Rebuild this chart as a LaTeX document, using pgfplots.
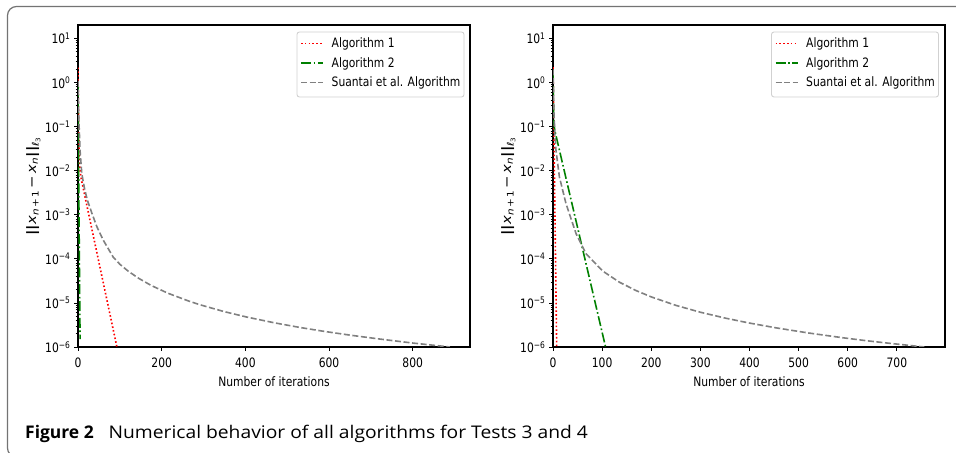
\documentclass[border=0pt]{standalone}
\usepackage{pgfplots}
\pgfplotsset{compat=1.18}
\usepackage{fontspec}
\setmainfont{DejaVu Sans}[FakeStretch=0.83]
\newfontfamily\ylfont{DejaVu Sans}[FakeStretch=1.15]
\newfontfamily\capfont{Open Sans}
\newfontfamily\capfontw{Open Sans}[FakeStretch=1.105]
\definecolor{mplgreen}{RGB}{0,128,0}
\definecolor{mplgray}{RGB}{128,128,128}
\definecolor{mplred}{RGB}{255,0,0}
\newcommand{\logexp}[1]{\pgfmathtruncatemacro\myexp{round(#1)}\ifnum\myexp<0 −\the\numexpr-\myexp\relax\else\myexp\fi}
\newcommand{\ylab}{{\ylfont\fontsize{13}{14}\selectfont\textbf{||}\textit{x}\textsubscript{\textit{n}\,+\,1}\,−\,\textit{x}\textsubscript{\textit{n}}\textbf{||}\textsubscript{\textit{ℓ}\textsubscript{3}}}}

\pgfplotstableread{
x y
0 2.2
1 0.32
2 0.063
3 0.025
5 0.010
8 0.0063
12 0.0042
17 0.0025
93 1e-6
}\leftA
\pgfplotstableread{
x y
0 1.0
1 0.05
2 0.003
3 2e-4
4 1.5e-5
5 1.5e-6
}\leftB
\pgfplotstableread{
x y
0 1.1
2 0.15
5 0.028
9 0.0087
15 0.0042
22 0.0022
33 0.0011
45 5.4e-4
60 2.7e-4
84 1.1e-4
100 7.55e-5
120 5.26e-5
145 3.62e-5
175 2.49e-5
215 1.66e-5
265 1.10e-5
291 9.12e-6
350 6.33e-6
403 4.79e-6
470 3.53e-6
530 2.78e-6
590 2.25e-6
650 1.86e-6
720 1.52e-6
800 1.23e-6
889 1.0e-6
}\leftC
\pgfplotstableread{
x y
0 2.24
1 0.316
2 0.0457
3 6.46e-3
4 9.12e-4
5 1.32e-4
6 1.86e-5
7 2.63e-6
7.5 1e-6
}\rightA
\pgfplotstableread{
x y
0 2.0
1 0.25
2 0.112
4 0.079
107 1e-6
}\rightB
\pgfplotstableread{
x y
0 2.0
2 0.2
4 0.063
6 0.0295
13 0.00724
26.5 1.78e-3
47 3.72e-4
67 1.32e-4
101 5.3e-5
135 2.96e-5
169 1.91e-5
200 1.37e-5
250 8.81e-6
300 6.15e-6
352 4.49e-6
400 3.49e-6
454 2.72e-6
520 2.08e-6
590 1.62e-6
640 1.38e-6
692 1.19e-6
756 1.0e-6
}\rightC

\pgfplotsset{
  myaxis/.style={
    scale only axis,
    width=392bp, height=322bp,
    anchor=south west,
    ymin=1e-6, ymax=20.3,
    axis line style={line width=1.2bp},
    tick align=outside,
    major tick length=4bp,
    minor tick length=2.4bp,
    every tick/.style={black, line width=0.8bp},
    xtick pos=bottom, ytick pos=left,
    /pgf/number format/assume math mode=true,
    tick label style={font=\fontsize{13}{14}\selectfont},
    xticklabel style={yshift=-3bp},
    label style={font=\fontsize{13}{14}\selectfont},
    yticklabel={10\textsuperscript{\logexp{\tick/2.302585093}}},
    xlabel={Number of iterations},
    ylabel={\ylab},
    ylabel style={yshift=-2bp},
    xlabel style={yshift=-3bp},
  },
}

\begin{document}
\begin{tikzpicture}[x=1bp,y=1bp]
\useasboundingbox (0,0) rectangle (956,453);
\draw[black!55, line width=1.2bp, rounded corners=9bp] (970,446.5) -- (7.5,446.5) -- (7.5,-4) -- (970,-4);

\begin{semilogyaxis}[myaxis,
    at={(78bp,106bp)},
    xmin=0, xmax=937, xtick={0,200,400,600,800}
]
\addplot[mplred, line width=1.6bp, dash pattern=on 1.6bp off 2.2bp] table {\leftA};
\addplot[mplgreen, line width=1.6bp, dash pattern=on 10bp off 2.6bp on 1.6bp off 2.6bp] table {\leftB};
\addplot[mplgray, line width=1.6bp, dash pattern=on 6bp off 2.6bp] table {\leftC};
\end{semilogyaxis}

\begin{semilogyaxis}[myaxis,
    at={(553bp,106bp)},
    xmin=0, xmax=798, xtick={0,100,200,300,400,500,600,700}
]
\addplot[mplred, line width=1.6bp, dash pattern=on 1.6bp off 2.2bp] table {\rightA};
\addplot[mplgreen, line width=1.6bp, dash pattern=on 10bp off 2.6bp on 1.6bp off 2.6bp] table {\rightB};
\addplot[mplgray, line width=1.6bp, dash pattern=on 6bp off 2.6bp] table {\rightC};
\end{semilogyaxis}

% legends
\foreach \lx in {297,771.5} {
  \draw[black!18, line width=0.9bp, rounded corners=2.5bp, fill=white] (\lx,356) rectangle ++(167,65);
  \draw[color=mplred, line width=1.6bp, dash pattern=on 1.6bp off 2.2bp] (\lx+4,409.5) -- ++(22,0);
  \draw[color=mplgreen, line width=1.6bp, dash pattern=on 10bp off 2.6bp on 1.6bp off 2.6bp] (\lx+4,390) -- ++(22,0);
  \draw[color=mplgray, line width=1.6bp, dash pattern=on 6bp off 2.6bp] (\lx+4,370.5) -- ++(22,0);
  \node[anchor=base west, inner sep=0pt, font=\fontsize{13}{14}\selectfont] at (\lx+34.5,405) {Algorithm 1};
  \node[anchor=base west, inner sep=0pt, font=\fontsize{13}{14}\selectfont] at (\lx+34.5,385.5) {Algorithm 2};
  \node[anchor=base west, inner sep=0pt, font=\fontsize{13}{14}\selectfont] at (\lx+34.5,366) {Suantai et al. Algorithm};
}

\node[anchor=base west, inner sep=0pt] at (25,14) {\capfont\fontsize{17.5}{19}\selectfont\textbf{Figure 2}\hspace{0.85em}{\capfontw Numerical behavior of all algorithms for Tests 3 and 4}};
\end{tikzpicture}
\end{document}
